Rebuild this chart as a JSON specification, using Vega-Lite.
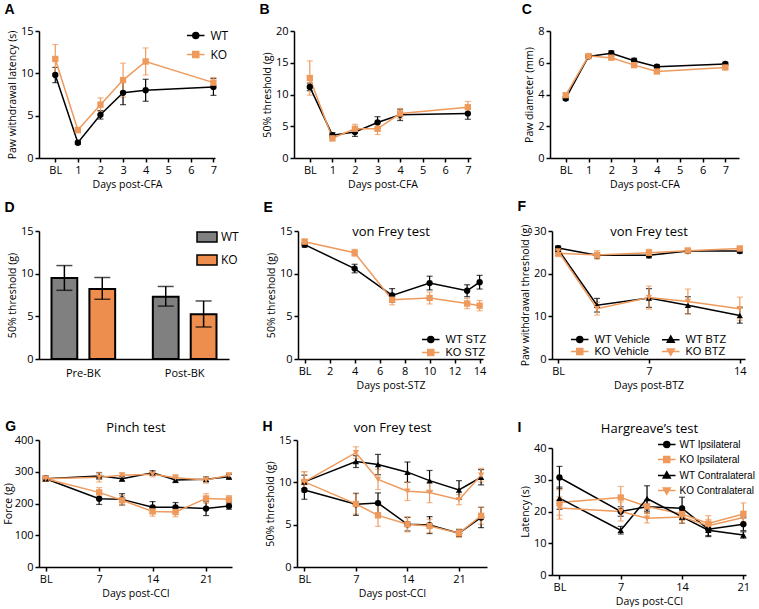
{
"$schema":"https://vega.github.io/schema/vega-lite/v6.json",
"padding":{"left":3,"top":3,"right":0,"bottom":0},
"config":{
 "font":"Open Sans",
 "view":{"stroke":null},
 "axis":{"domainColor":"#000","domainWidth":1.5,"tickColor":"#000","tickWidth":1.5,"tickSize":4,"labelColor":"#000","labelFontSize":11,"labelPadding":2,"titleColor":"#000","titleFontSize":10.5,"titleFontWeight":"normal","titlePadding":4,"grid":false,"labelFont":"Open Sans","titleFont":"Open Sans"},
 "axisY":{"titlePadding":3},
 "title":{"anchor":"start","frame":"bounds","font":"Liberation Sans","fontSize":14,"fontWeight":"bold","color":"#000","dx":-3},
 "legend":{"labelFont":"Liberation Sans","labelFontSize":11,"labelColor":"#000"}
},
"datasets":{
 "A":[{"d":0,"s":"WT","m":9.8,"e":0.9},{"d":1,"s":"WT","m":1.8,"e":0.2},{"d":2,"s":"WT","m":5.1,"e":0.5},{"d":3,"s":"WT","m":7.7,"e":1.4},{"d":4,"s":"WT","m":8.0,"e":1.3},{"d":7,"s":"WT","m":8.4,"e":1.0},
      {"d":0,"s":"KO","m":11.7,"e":1.7},{"d":1,"s":"KO","m":3.3,"e":0.3},{"d":2,"s":"KO","m":6.3,"e":0.8},{"d":3,"s":"KO","m":9.2,"e":2.0},{"d":4,"s":"KO","m":11.4,"e":1.6},{"d":7,"s":"KO","m":8.9,"e":0.6}],
 "B":[{"d":0,"s":"WT","m":11.2,"e":0.6},{"d":1,"s":"WT","m":3.6,"e":0.4},{"d":2,"s":"WT","m":4.1,"e":0.7},{"d":3,"s":"WT","m":5.6,"e":0.9},{"d":4,"s":"WT","m":6.8,"e":0.9},{"d":7,"s":"WT","m":7.0,"e":0.9},
      {"d":0,"s":"KO","m":12.6,"e":2.7},{"d":1,"s":"KO","m":3.1,"e":0.4},{"d":2,"s":"KO","m":4.6,"e":0.7},{"d":3,"s":"KO","m":4.6,"e":0.9},{"d":4,"s":"KO","m":7.0,"e":0.8},{"d":7,"s":"KO","m":8.0,"e":0.9}],
 "C":[{"d":0,"s":"WT","m":3.75,"e":0.1},{"d":1,"s":"WT","m":6.4,"e":0.1},{"d":2,"s":"WT","m":6.6,"e":0.15},{"d":3,"s":"WT","m":6.13,"e":0.15},{"d":4,"s":"WT","m":5.75,"e":0.12},{"d":7,"s":"WT","m":5.92,"e":0.1},
      {"d":0,"s":"KO","m":3.96,"e":0.1},{"d":1,"s":"KO","m":6.42,"e":0.1},{"d":2,"s":"KO","m":6.32,"e":0.1},{"d":3,"s":"KO","m":5.85,"e":0.1},{"d":4,"s":"KO","m":5.45,"e":0.1},{"d":7,"s":"KO","m":5.7,"e":0.1}],
 "D":[{"c":"Pre-BK","s":"WT","m":9.5,"lo":8.05,"hi":10.95},{"c":"Pre-BK","s":"KO","m":8.2,"lo":7.0,"hi":9.55},{"c":"Post-BK","s":"WT","m":7.3,"lo":6.2,"hi":8.5},{"c":"Post-BK","s":"KO","m":5.25,"lo":3.75,"hi":6.8}],
 "E":[{"d":0,"s":"WT STZ","m":13.4,"e":0.3},{"d":4,"s":"WT STZ","m":10.6,"e":0.5},{"d":7,"s":"WT STZ","m":7.45,"e":0.8},{"d":10,"s":"WT STZ","m":8.9,"e":0.8},{"d":13,"s":"WT STZ","m":8.0,"e":0.7},{"d":14,"s":"WT STZ","m":9.0,"e":0.8},
      {"d":0,"s":"KO STZ","m":13.75,"e":0.3},{"d":4,"s":"KO STZ","m":12.45,"e":0.4},{"d":7,"s":"KO STZ","m":6.95,"e":0.6},{"d":10,"s":"KO STZ","m":7.15,"e":0.7},{"d":13,"s":"KO STZ","m":6.5,"e":0.6},{"d":14,"s":"KO STZ","m":6.25,"e":0.6}],
 "F":[{"d":0,"s":"WT Vehicle","m":26.0,"e":0.5},{"d":3,"s":"WT Vehicle","m":24.3,"e":0.6},{"d":7,"s":"WT Vehicle","m":24.3,"e":0.6},{"d":10,"s":"WT Vehicle","m":25.3,"e":0.5},{"d":14,"s":"WT Vehicle","m":25.3,"e":0.5},
      {"d":0,"s":"KO Vehicle","m":24.8,"e":0.8},{"d":3,"s":"KO Vehicle","m":24.4,"e":1.0},{"d":7,"s":"KO Vehicle","m":24.9,"e":0.8},{"d":10,"s":"KO Vehicle","m":25.4,"e":0.6},{"d":14,"s":"KO Vehicle","m":25.9,"e":0.5},
      {"d":0,"s":"WT BTZ","m":25.7,"e":0.5},{"d":3,"s":"WT BTZ","m":12.6,"e":1.6},{"d":7,"s":"WT BTZ","m":14.3,"e":2.2},{"d":10,"s":"WT BTZ","m":12.6,"e":2.0},{"d":14,"s":"WT BTZ","m":10.2,"e":1.8},
      {"d":0,"s":"KO BTZ","m":25.3,"e":0.8},{"d":3,"s":"KO BTZ","m":11.8,"e":1.5},{"d":7,"s":"KO BTZ","m":14.4,"e":2.7},{"d":10,"s":"KO BTZ","m":13.5,"e":2.9},{"d":14,"s":"KO BTZ","m":11.8,"e":2.7}],
 "G":[{"d":0,"s":"WT Ipsilateral","m":278,"e":8},{"d":7,"s":"WT Ipsilateral","m":215,"e":18},{"d":10,"s":"WT Ipsilateral","m":213,"e":18},{"d":14,"s":"WT Ipsilateral","m":188,"e":18},{"d":17,"s":"WT Ipsilateral","m":188,"e":15},{"d":21,"s":"WT Ipsilateral","m":184,"e":22},{"d":24,"s":"WT Ipsilateral","m":192,"e":10},
      {"d":0,"s":"KO Ipsilateral","m":278,"e":8},{"d":7,"s":"KO Ipsilateral","m":235,"e":15},{"d":10,"s":"KO Ipsilateral","m":210,"e":15},{"d":14,"s":"KO Ipsilateral","m":175,"e":15},{"d":17,"s":"KO Ipsilateral","m":173,"e":15},{"d":21,"s":"KO Ipsilateral","m":216,"e":15},{"d":24,"s":"KO Ipsilateral","m":213,"e":12},
      {"d":0,"s":"WT Contralateral","m":278,"e":8},{"d":7,"s":"WT Contralateral","m":287,"e":10},{"d":10,"s":"WT Contralateral","m":278,"e":8},{"d":14,"s":"WT Contralateral","m":297,"e":6},{"d":17,"s":"WT Contralateral","m":274,"e":8},{"d":21,"s":"WT Contralateral","m":276,"e":8},{"d":24,"s":"WT Contralateral","m":284,"e":8},
      {"d":0,"s":"KO Contralateral","m":278,"e":8},{"d":7,"s":"KO Contralateral","m":283,"e":15},{"d":10,"s":"KO Contralateral","m":289,"e":8},{"d":14,"s":"KO Contralateral","m":292,"e":8},{"d":17,"s":"KO Contralateral","m":281,"e":10},{"d":21,"s":"KO Contralateral","m":274,"e":10},{"d":24,"s":"KO Contralateral","m":289,"e":8}],
 "H":[{"d":0,"s":"WT Ipsilateral","m":9.1,"e":1.1},{"d":7,"s":"WT Ipsilateral","m":7.4,"e":1.3},{"d":10,"s":"WT Ipsilateral","m":7.55,"e":1.2},{"d":14,"s":"WT Ipsilateral","m":5.05,"e":0.8},{"d":17,"s":"WT Ipsilateral","m":4.95,"e":1.0},{"d":21,"s":"WT Ipsilateral","m":4.0,"e":0.4},{"d":24,"s":"WT Ipsilateral","m":5.85,"e":1.2},
      {"d":0,"s":"KO Ipsilateral","m":10.05,"e":1.2},{"d":7,"s":"KO Ipsilateral","m":7.45,"e":1.2},{"d":10,"s":"KO Ipsilateral","m":6.1,"e":1.3},{"d":14,"s":"KO Ipsilateral","m":5.05,"e":0.9},{"d":17,"s":"KO Ipsilateral","m":4.85,"e":0.8},{"d":21,"s":"KO Ipsilateral","m":4.0,"e":0.5},{"d":24,"s":"KO Ipsilateral","m":6.05,"e":1.0},
      {"d":0,"s":"WT Contralateral","m":10.05,"e":0.8},{"d":7,"s":"WT Contralateral","m":12.45,"e":0.7},{"d":10,"s":"WT Contralateral","m":12.1,"e":1.2},{"d":14,"s":"WT Contralateral","m":11.2,"e":1.2},{"d":17,"s":"WT Contralateral","m":10.2,"e":1.2},{"d":21,"s":"WT Contralateral","m":9.1,"e":1.1},{"d":24,"s":"WT Contralateral","m":10.6,"e":0.9},
      {"d":0,"s":"KO Contralateral","m":10.05,"e":1.2},{"d":7,"s":"KO Contralateral","m":13.5,"e":0.7},{"d":10,"s":"KO Contralateral","m":10.35,"e":1.2},{"d":14,"s":"KO Contralateral","m":8.95,"e":1.1},{"d":17,"s":"KO Contralateral","m":8.8,"e":1.2},{"d":21,"s":"KO Contralateral","m":7.95,"e":0.6},{"d":24,"s":"KO Contralateral","m":10.85,"e":0.8}],
 "I":[{"d":0,"s":"WT Ipsilateral","m":30.7,"e":3.5},{"d":7,"s":"WT Ipsilateral","m":20.0,"e":1.5},{"d":10,"s":"WT Ipsilateral","m":21.5,"e":2},{"d":14,"s":"WT Ipsilateral","m":21.0,"e":3.5},{"d":17,"s":"WT Ipsilateral","m":14.4,"e":2},{"d":21,"s":"WT Ipsilateral","m":16.0,"e":2},
      {"d":0,"s":"KO Ipsilateral","m":22.8,"e":4},{"d":7,"s":"KO Ipsilateral","m":24.4,"e":3.5},{"d":10,"s":"KO Ipsilateral","m":21.6,"e":2},{"d":14,"s":"KO Ipsilateral","m":19.2,"e":2},{"d":17,"s":"KO Ipsilateral","m":16.2,"e":2.5},{"d":21,"s":"KO Ipsilateral","m":19.2,"e":3.5},
      {"d":0,"s":"WT Contralateral","m":24.2,"e":3.5},{"d":7,"s":"WT Contralateral","m":14.1,"e":1.2},{"d":10,"s":"WT Contralateral","m":24.1,"e":4},{"d":14,"s":"WT Contralateral","m":18.3,"e":2},{"d":17,"s":"WT Contralateral","m":14.1,"e":2},{"d":21,"s":"WT Contralateral","m":12.6,"e":1},
      {"d":0,"s":"KO Contralateral","m":21.1,"e":3.5},{"d":7,"s":"KO Contralateral","m":20.0,"e":3},{"d":10,"s":"KO Contralateral","m":17.9,"e":1.5},{"d":14,"s":"KO Contralateral","m":18.3,"e":2},{"d":17,"s":"KO Contralateral","m":15.5,"e":2},{"d":21,"s":"KO Contralateral","m":18.1,"e":2}]
},
"resolve":{"scale":{"color":"independent","shape":"independent","fill":"independent"}},
"spacing":29,
"vconcat":[
{"spacing":10,
 "resolve":{"scale":{"color":"independent","shape":"independent","fill":"independent"}},
 "vconcat":[
 {"hconcat":[
  {"width":176,"height":127,"title":{"text":"A","offset":8},"data":{"name":"A"},
   "encoding":{
    "x":{"field":"d","type":"quantitative","scale":{"domain":[-0.72,7.07],"nice":false,"zero":false},"axis":{"values":[0,1,2,3,4,5,6,7],"labelExpr":"datum.value==0?'BL':datum.label","title":"Days post-CFA"}},
    "y":{"field":"m","type":"quantitative","scale":{"domain":[0,15],"nice":false,"zero":false},"axis":{"values":[0,5,10,15],"title":"Paw withdrawal latency (s)"}},
    "color":{"field":"s","type":"nominal","scale":{"domain":["WT","KO"],"range":["#000000","#EE9A5C"]},
      "legend":{"orient":"none","legendX":150.75,"legendY":-1.5,"title":null,"padding":0,"symbolSize":100,"labelOffset":8.75,"rowPadding":7,"symbolStrokeWidth":1.5,"labelFont":"Open Sans","labelFontSize":12,
        "encode":{"symbols":{"update":{
          "shape":{"signal":"datum.value=='WT'?'M-1.75,0H1.75M0.6,0A0.6,0.6,0,1,1,-0.6,0A0.6,0.6,0,1,1,0.6,0Z':'M-1.75,0H1.75M-0.6,-0.6H0.6V0.6H-0.6Z'"},
          "fill":{"signal":"datum.value=='WT'?'#000000':'#EE9A5C'"},
          "stroke":{"signal":"datum.value=='WT'?'#000000':'#EE9A5C'"},
          "strokeWidth":{"value":1.5},"opacity":{"value":1}}}}}}},
   "layer":[
    {"mark":{"type":"errorbar","ticks":true,"size":6,"thickness":1.2},"encoding":{"yError":{"field":"e"}}},
    {"mark":{"type":"line","strokeWidth":1.5}},
    {"mark":{"type":"point","filled":true,"size":40,"opacity":1},"encoding":{"shape":{"field":"s","type":"nominal","scale":{"domain":["KO","WT"],"range":["square","circle"]},"legend":null}}}
   ]},
  {"width":177,"height":127,"title":{"text":"B","offset":8},"data":{"name":"B"},
   "encoding":{
    "x":{"field":"d","type":"quantitative","scale":{"domain":[-0.7,7.14],"nice":false,"zero":false},"axis":{"values":[0,1,2,3,4,5,6,7],"labelExpr":"datum.value==0?'BL':datum.label","title":"Days post-CFA"}},
    "y":{"field":"m","type":"quantitative","scale":{"domain":[0,20],"nice":false,"zero":false},"axis":{"values":[0,5,10,15,20],"title":"50% threshold (g)"}},
    "color":{"field":"s","type":"nominal","scale":{"domain":["WT","KO"],"range":["#000000","#EE9A5C"]},"legend":null}},
   "layer":[
    {"mark":{"type":"errorbar","ticks":true,"size":6,"thickness":1.2},"encoding":{"yError":{"field":"e"}}},
    {"mark":{"type":"line","strokeWidth":1.5}},
    {"mark":{"type":"point","filled":true,"size":40,"opacity":1},"encoding":{"shape":{"field":"s","type":"nominal","scale":{"domain":["WT","KO"],"range":["circle","square"]},"legend":null}}}
   ]},
  {"width":189,"height":127,"title":{"text":"C","offset":8},"data":{"name":"C"},
   "encoding":{
    "x":{"field":"d","type":"quantitative","scale":{"domain":[-0.69,7.6],"nice":false,"zero":false},"axis":{"values":[0,1,2,3,4,5,6,7],"labelExpr":"datum.value==0?'BL':datum.label","title":"Days post-CFA"}},
    "y":{"field":"m","type":"quantitative","scale":{"domain":[0,8],"nice":false,"zero":false},"axis":{"values":[0,2,4,6,8],"title":"Paw diameter (mm)"}},
    "color":{"field":"s","type":"nominal","scale":{"domain":["WT","KO"],"range":["#000000","#EE9A5C"]},"legend":null}},
   "layer":[
    {"mark":{"type":"errorbar","ticks":true,"size":6,"thickness":1.2},"encoding":{"yError":{"field":"e"}}},
    {"mark":{"type":"line","strokeWidth":1.5}},
    {"mark":{"type":"point","filled":true,"size":40,"opacity":1},"encoding":{"shape":{"field":"s","type":"nominal","scale":{"domain":["WT","KO"],"range":["circle","square"]},"legend":null}}}
   ]}
 ],"spacing":79,"bounds":"flush","resolve":{"scale":{"color":"independent","shape":"independent","fill":"independent"}}},
 {"hconcat":[
  {"width":190,"height":128,"title":{"text":"D","offset":10},"data":{"name":"D"},
   "encoding":{
    "x":{"field":"c","type":"nominal","sort":["Pre-BK","Post-BK"],"scale":{"paddingInner":0.125,"paddingOuter":0},"axis":{"title":null,"ticks":false,"labelAngle":0,"labelPadding":8}},
    "xOffset":{"field":"s","type":"nominal","sort":["WT","KO"],"scale":{"paddingInner":0.32,"paddingOuter":0.33}}},
   "layer":[
    {"mark":{"type":"bar","stroke":"#000","strokeWidth":2},
     "encoding":{"y":{"field":"m","type":"quantitative","scale":{"domain":[0,15],"nice":false},"axis":{"values":[0,5,10,15],"title":"50% threshold (g)"}},
      "fill":{"field":"s","type":"nominal","scale":{"domain":["WT","KO"],"range":["#808080","#EE8E4E"]},
        "legend":{"orient":"none","legendX":162,"legendY":0,"title":null,"padding":0,"symbolType":"M-2,-1H2V1H-2Z","symbolSize":100,"symbolStrokeColor":"#000","symbolStrokeWidth":1.5,"labelOffset":8,"rowPadding":7,"labelFont":"Open Sans","labelFontSize":12}}}},
    {"mark":{"type":"rule","color":"#000","strokeWidth":1.5},"encoding":{"y":{"field":"lo","type":"quantitative"},"y2":{"field":"hi"}}},
    {"mark":{"type":"tick","color":"#000","thickness":1.5,"size":16},"encoding":{"y":{"field":"lo","type":"quantitative"}}},
    {"mark":{"type":"tick","color":"#000","thickness":1.5,"size":16},"encoding":{"y":{"field":"hi","type":"quantitative"}}}
   ]},
  {"width":185,"height":128,"title":{"text":"E","offset":10},"data":{"name":"E"},
   "resolve":{"axis":{"x":"independent"}},
   "encoding":{
    "x":{"field":"d","type":"quantitative","scale":{"domain":[-0.53,14.27],"nice":false,"zero":false},"axis":null},
    "y":{"field":"m","type":"quantitative","scale":{"domain":[0,15],"nice":false,"zero":false},"axis":{"values":[0,5,10,15],"title":"50% threshold (g)"}},
    "color":{"field":"s","type":"nominal","scale":{"domain":["WT STZ","KO STZ"],"range":["#000000","#EE9A5C"]},
      "legend":{"orient":"none","legendX":126.75,"legendY":102.5,"title":null,"padding":0,"symbolSize":100,"labelOffset":8.75,"rowPadding":1,"symbolStrokeWidth":1.5,
        "encode":{"symbols":{"update":{
          "shape":{"signal":"datum.value=='WT STZ'?'M-1.75,0H1.75M0.6,0A0.6,0.6,0,1,1,-0.6,0A0.6,0.6,0,1,1,0.6,0Z':'M-1.75,0H1.75M-0.6,-0.6H0.6V0.6H-0.6Z'"},
          "fill":{"signal":"datum.value=='WT STZ'?'#000000':'#EE9A5C'"},
          "stroke":{"signal":"datum.value=='WT STZ'?'#000000':'#EE9A5C'"},
          "strokeWidth":{"value":1.5},"opacity":{"value":1}}}}}}},
   "layer":[
    {"mark":{"type":"errorbar","ticks":true,"size":6,"thickness":1.2},"encoding":{"yError":{"field":"e"}}},
    {"mark":{"type":"line","strokeWidth":1.5},"encoding":{"x":{"field":"d","type":"quantitative","axis":{"values":[0,2,4,6,8,10,12,14],"labelExpr":"datum.value==0?'BL':datum.label","title":"Days post-STZ"}}}},
    {"mark":{"type":"point","filled":true,"size":40,"opacity":1},"encoding":{"shape":{"field":"s","type":"nominal","scale":{"domain":["KO STZ","WT STZ"],"range":["square","circle"]},"legend":null}}},
    {"mark":{"type":"point","opacity":0},"encoding":{"x":{"field":"d","type":"quantitative","axis":{"orient":"top","title":"von Frey test","domain":false,"ticks":false,"labels":false,"titlePadding":-7,"titleFontSize":13}}}}
   ]},
  {"width":193,"height":128,"title":{"text":"F","offset":10},"data":{"name":"F"},
   "resolve":{"axis":{"x":"independent"}},
   "encoding":{
    "x":{"field":"d","type":"quantitative","scale":{"domain":[-0.47,14.4],"nice":false,"zero":false},"axis":null},
    "y":{"field":"m","type":"quantitative","scale":{"domain":[0,30],"nice":false,"zero":false},"axis":{"values":[0,10,20,30],"title":"Paw withdrawal threshold (g)"}},
    "color":{"field":"s","type":"nominal","scale":{"domain":["WT Vehicle","KO Vehicle","WT BTZ","KO BTZ"],"range":["#000000","#EE9A5C","#000000","#EE9A5C"]},
      "legend":{"orient":"none","legendX":21.75,"legendY":102.5,"title":null,"padding":0,"columns":2,"columnPadding":8,"symbolSize":100,"labelOffset":8.75,"rowPadding":0,"symbolStrokeWidth":1.5,
        "encode":{"symbols":{"update":{
          "shape":{"signal":"datum.value=='WT Vehicle'?'M-1.75,0H1.75M0.6,0A0.6,0.6,0,1,1,-0.6,0A0.6,0.6,0,1,1,0.6,0Z':datum.value=='KO Vehicle'?'M-1.75,0H1.75M-0.6,-0.6H0.6V0.6H-0.6Z':datum.value=='WT BTZ'?'M-1.75,0H1.75M0,-0.75L0.7,0.5H-0.7Z':'M-1.75,0H1.75M0,0.75L0.7,-0.5H-0.7Z'"},
          "fill":{"signal":"(datum.value=='WT Vehicle'||datum.value=='WT BTZ')?'#000000':'#EE9A5C'"},
          "stroke":{"signal":"(datum.value=='WT Vehicle'||datum.value=='WT BTZ')?'#000000':'#EE9A5C'"},
          "strokeWidth":{"value":1.5},"opacity":{"value":1}}}}}}},
   "layer":[
    {"mark":{"type":"errorbar","ticks":true,"size":6,"thickness":1.2},"encoding":{"yError":{"field":"e"}}},
    {"mark":{"type":"line","strokeWidth":1.5},"encoding":{"x":{"field":"d","type":"quantitative","axis":{"values":[0,7,14],"labelExpr":"datum.value==0?'BL':datum.label","title":"Days post-BTZ"}}}},
    {"mark":{"type":"point","filled":true,"size":40,"opacity":1},"encoding":{"shape":{"field":"s","type":"nominal","scale":{"domain":["KO BTZ","WT BTZ","KO Vehicle","WT Vehicle"],"range":["triangle-down","triangle-up","square","circle"]},"legend":null}}},
    {"mark":{"type":"point","opacity":0},"encoding":{"x":{"field":"d","type":"quantitative","axis":{"orient":"top","title":"von Frey test","domain":false,"ticks":false,"labels":false,"titlePadding":-7,"titleFontSize":13}}}}
   ]}
 ],"spacing":69,"bounds":"flush","resolve":{"scale":{"color":"independent","shape":"independent","fill":"independent"}}}
 ]},
 {"hconcat":[
  {"width":193,"height":127,"title":{"text":"G","offset":-13,"dx":2},"data":{"name":"G"},
   "resolve":{"axis":{"x":"independent"}},
   "encoding":{
    "x":{"field":"d","type":"quantitative","scale":{"domain":[-0.88,24.4],"nice":false,"zero":false},"axis":null},
    "y":{"field":"m","type":"quantitative","scale":{"domain":[0,400],"nice":false,"zero":false},"axis":{"values":[0,100,200,300,400],"title":"Force (g)","titlePadding":1}},
    "color":{"field":"s","type":"nominal","scale":{"domain":["WT Ipsilateral","KO Ipsilateral","WT Contralateral","KO Contralateral"],"range":["#000000","#EE9A5C","#000000","#EE9A5C"]},"legend":null}},
   "layer":[
    {"mark":{"type":"errorbar","ticks":true,"size":6,"thickness":1.2},"encoding":{"yError":{"field":"e"}}},
    {"mark":{"type":"line","strokeWidth":1.5},"encoding":{"x":{"field":"d","type":"quantitative","axis":{"values":[0,7,14,21],"labelExpr":"datum.value==0?'BL':datum.label","title":"Days post-CCI"}}}},
    {"mark":{"type":"point","filled":true,"size":40,"opacity":1},"encoding":{"shape":{"field":"s","type":"nominal","scale":{"domain":["WT Ipsilateral","KO Ipsilateral","WT Contralateral","KO Contralateral"],"range":["circle","square","triangle-up","triangle-down"]},"legend":null}}},
    {"mark":{"type":"point","opacity":0},"encoding":{"x":{"field":"d","type":"quantitative","axis":{"orient":"top","title":"Pinch test","domain":false,"ticks":false,"labels":false,"titlePadding":6,"titleFontSize":13}}}}
   ]},
  {"width":190,"height":127,"title":{"text":"H","offset":-13},"data":{"name":"H"},
   "resolve":{"axis":{"x":"independent"}},
   "encoding":{
    "x":{"field":"d","type":"quantitative","scale":{"domain":[-1.0,24.8],"nice":false,"zero":false},"axis":null},
    "y":{"field":"m","type":"quantitative","scale":{"domain":[0,15],"nice":false,"zero":false},"axis":{"values":[0,5,10,15],"title":"50% threshold (g)"}},
    "color":{"field":"s","type":"nominal","scale":{"domain":["WT Ipsilateral","KO Ipsilateral","WT Contralateral","KO Contralateral"],"range":["#000000","#EE9A5C","#000000","#EE9A5C"]},"legend":null}},
   "layer":[
    {"mark":{"type":"errorbar","ticks":true,"size":6,"thickness":1.2},"encoding":{"yError":{"field":"e"}}},
    {"mark":{"type":"line","strokeWidth":1.5},"encoding":{"x":{"field":"d","type":"quantitative","axis":{"values":[0,7,14,21],"labelExpr":"datum.value==0?'BL':datum.label","title":"Days post-CCI"}}}},
    {"mark":{"type":"point","filled":true,"size":40,"opacity":1},"encoding":{"shape":{"field":"s","type":"nominal","scale":{"domain":["WT Ipsilateral","KO Ipsilateral","WT Contralateral","KO Contralateral"],"range":["circle","square","triangle-up","triangle-down"]},"legend":null}}},
    {"mark":{"type":"point","opacity":0},"encoding":{"x":{"field":"d","type":"quantitative","axis":{"orient":"top","title":"von Frey test","domain":false,"ticks":false,"labels":false,"titlePadding":6,"titleFontSize":13}}}}
   ]},
  {"width":194,"height":135,"title":{"text":"I","offset":-13},"data":{"name":"I"},
   "resolve":{"axis":{"x":"independent"}},
   "encoding":{
    "x":{"field":"d","type":"quantitative","scale":{"domain":[-0.85,21.3],"nice":false,"zero":false},"axis":null},
    "y":{"field":"m","type":"quantitative","scale":{"domain":[0,40],"nice":false,"zero":false,"range":[135,8]},"axis":{"values":[0,10,20,30,40],"title":"Latency (s)"}},
    "color":{"field":"s","type":"nominal","scale":{"domain":["WT Ipsilateral","KO Ipsilateral","WT Contralateral","KO Contralateral"],"range":["#000000","#EE9A5C","#000000","#EE9A5C"]},
      "legend":{"orient":"none","legendX":108.75,"legendY":-1.5,"title":null,"padding":0,"symbolSize":100,"labelOffset":6.75,"rowPadding":3,"symbolStrokeWidth":1.5,"labelFontSize":10,
        "encode":{"symbols":{"update":{
          "shape":{"signal":"datum.value=='WT Ipsilateral'?'M-1.75,0H1.75M0.6,0A0.6,0.6,0,1,1,-0.6,0A0.6,0.6,0,1,1,0.6,0Z':datum.value=='KO Ipsilateral'?'M-1.75,0H1.75M-0.6,-0.6H0.6V0.6H-0.6Z':datum.value=='WT Contralateral'?'M-1.75,0H1.75M0,-0.75L0.7,0.5H-0.7Z':'M-1.75,0H1.75M0,0.75L0.7,-0.5H-0.7Z'"},
          "fill":{"signal":"(datum.value=='WT Ipsilateral'||datum.value=='WT Contralateral')?'#000000':'#EE9A5C'"},
          "stroke":{"signal":"(datum.value=='WT Ipsilateral'||datum.value=='WT Contralateral')?'#000000':'#EE9A5C'"},
          "strokeWidth":{"value":1.5},"opacity":{"value":1}}}}}}},
   "layer":[
    {"mark":{"type":"errorbar","ticks":true,"size":6,"thickness":1.2},"encoding":{"yError":{"field":"e"}}},
    {"mark":{"type":"line","strokeWidth":1.5},"encoding":{"x":{"field":"d","type":"quantitative","axis":{"values":[0,7,14,21],"labelExpr":"datum.value==0?'BL':datum.label","title":"Days post-CCI"}}}},
    {"mark":{"type":"point","filled":true,"size":40,"opacity":1},"encoding":{"shape":{"field":"s","type":"nominal","scale":{"domain":["KO Contralateral","WT Contralateral","KO Ipsilateral","WT Ipsilateral"],"range":["triangle-down","triangle-up","square","circle"]},"legend":null}}},
    {"mark":{"type":"point","opacity":0},"encoding":{"x":{"field":"d","type":"quantitative","axis":{"orient":"top","title":"Hargreave’s test","domain":false,"ticks":false,"labels":false,"titlePadding":5,"titleFontSize":13}}}}
   ]}
 ],"spacing":65,"bounds":"flush","resolve":{"scale":{"color":"independent","shape":"independent","fill":"independent"}}}
]
}
